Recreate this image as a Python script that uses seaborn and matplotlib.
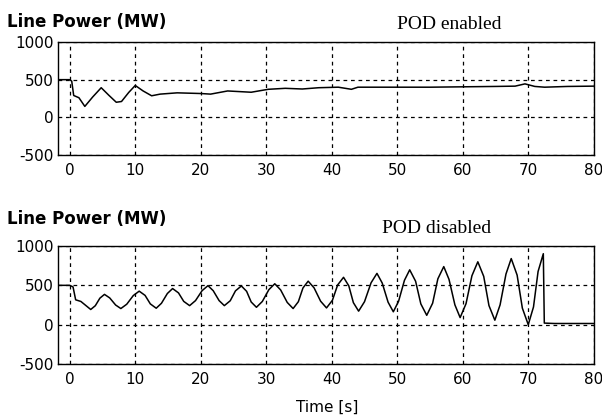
import numpy as np
import matplotlib
matplotlib.use('Agg')
import matplotlib.pyplot as plt
import seaborn as sns

# POD enabled
t_on = [-2, 0.0, 0.3, 0.6, 1.4, 2.3, 3.5, 4.8, 6.0, 7.1, 7.9, 9.0, 10.0, 11.2,
        12.5, 13.8, 16.4, 20.0, 21.5, 24.1, 27.7, 30.3, 32.9, 35.5, 38.0, 41.0,
        43.0, 44.0, 50.0, 55.0, 60.0, 65.0, 68.0, 69.5, 71.0, 72.5, 76.0, 80.0]
p_on = [500, 500, 480, 290, 260, 145, 270, 393, 290, 200, 210, 330, 423, 350,
        286, 308, 325, 316, 308, 350, 333, 372, 385, 376, 393, 400,
        372, 400, 400, 400, 405, 410, 414, 444, 410, 400, 410, 414]

# POD disabled
t_off = [-2, 0.0, 0.5, 0.9, 1.7, 3.2, 3.9, 4.6, 5.3, 6.1, 7.0, 7.8, 8.7, 9.7,
         10.6, 11.5, 12.3, 13.2, 14.0, 14.9, 15.7, 16.6, 17.4, 18.3, 19.2, 20.2,
         21.1, 21.9, 22.8, 23.6, 24.5, 25.3, 26.2, 27.0, 27.7, 28.5, 29.4, 30.4,
         31.3, 32.2, 33.2, 34.1, 34.9, 35.6, 36.4, 37.3, 38.3, 39.2, 40.1, 40.9,
         41.8, 42.6, 43.3, 44.1, 45.0, 46.0, 46.9, 47.7, 48.6, 49.4, 50.2, 51.1,
         51.9, 52.8, 53.6, 54.5, 55.4, 56.2, 57.1, 57.9, 58.8, 59.6, 60.5, 61.4,
         62.3, 63.2, 64.0, 64.9, 65.7, 66.6, 67.4, 68.3, 69.1, 70.0, 70.8, 71.5,
         72.3, 72.45, 74.0, 80.0]
p_off = [500, 500, 480, 316, 295, 193, 241, 337, 385, 340, 250, 205, 260, 370,
         426, 372, 264, 209, 272, 396, 459, 404, 296, 242, 306, 432,
         496, 432, 306, 242, 304, 430, 492, 424, 288, 221, 295, 445,
         520, 441, 283, 205, 292, 466, 553, 468, 298, 213, 310, 505,
         602, 494, 280, 172, 292, 532, 652, 530, 286, 164, 297, 564,
         697, 552, 264, 119, 273, 583, 738, 576, 252, 90, 267, 622,
         799, 614, 243, 57, 252, 644, 840, 630, 210, 0, 225, 676,
         902, 20, 15, 15]

panel_titles = ['Line Power (MW)', 'Line Power (MW)']
panel_notes = ['POD enabled', 'POD disabled']
x_ticks = np.arange(0, 81, 10)
y_ticks = [-500, 0, 500, 1000]

sns.set_style('white')
plt.rcParams['font.family'] = ['DejaVu Sans']
plt.rcParams['axes.unicode_minus'] = False
plt.rcParams['text.color'] = 'black'
plt.rcParams['xtick.color'] = 'black'
plt.rcParams['ytick.color'] = 'black'

fig = plt.figure(figsize=(6.02, 4.2), dpi=100)
ax_top = fig.add_axes([0.0963, 0.631, 0.890, 0.269])
ax_bot = fig.add_axes([0.0963, 0.1333, 0.890, 0.281])

series = [(t_on, p_on), (t_off, p_off)]
note_pos = [(449 / 602, 1 - 29 / 420), (437 / 602, 1 - 233 / 420)]
title_pos = [1 - 27 / 420, 1 - 224 / 420]

for i, ax in enumerate([ax_top, ax_bot]):
    t, p = series[i]
    sns.lineplot(x=t, y=p, ax=ax, color='black', linewidth=1.1,
                 estimator=None, sort=False)
    ax.set_xlim(-1.8, 80)
    ax.set_ylim(-500, 1000)
    ax.set_xticks(x_ticks)
    ax.set_yticks(y_ticks)
    ax.tick_params(length=0, labelsize=11, pad=6, colors='black')
    ax.tick_params(axis='y', pad=3)
    ax.grid(True, color='black', linestyle=(0, (3, 3)), linewidth=0.9)
    for s in ax.spines.values():
        s.set_color('black')
        s.set_linewidth(1.0)
    ax.set_xlabel('')
    ax.set_ylabel('')
    fig.text(7 / 602, title_pos[i], panel_titles[i], fontsize=12,
             fontweight='bold', ha='left', va='baseline', color='black')
    fig.text(note_pos[i][0], note_pos[i][1], panel_notes[i], fontsize=14,
             family='Liberation Serif', ha='center', va='baseline',
             color='black')

fig.text(327 / 602, 1 - 412 / 420, 'Time [s]', fontsize=11,
         ha='center', va='baseline', color='black')

fig.savefig('out.png', dpi=100)
